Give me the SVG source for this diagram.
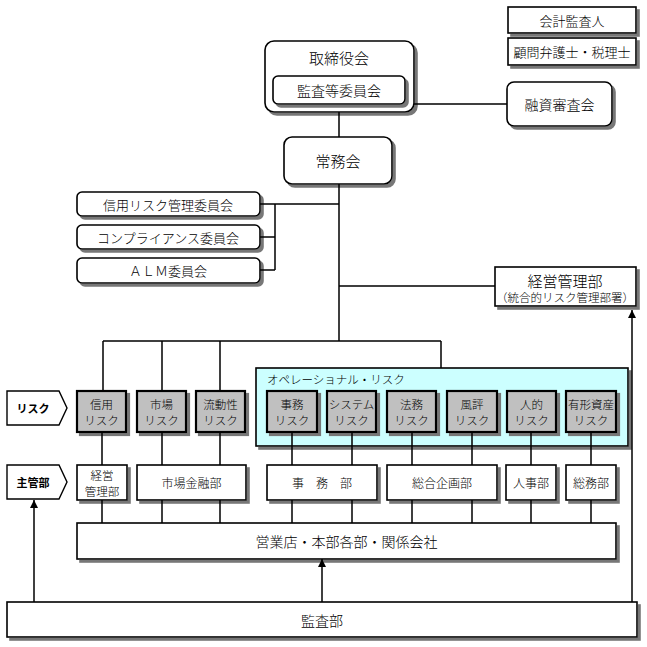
<svg xmlns="http://www.w3.org/2000/svg" width="647" height="647" viewBox="0 0 647 647">
<defs>
<filter id="sh" x="-10%" y="-10%" width="130%" height="140%"><feDropShadow dx="3" dy="3" stdDeviation="0" flood-color="#777" flood-opacity="1"/></filter>
<marker id="ah" viewBox="0 0 10 10" refX="10" refY="5" markerWidth="10" markerHeight="8" markerUnits="userSpaceOnUse" orient="auto"><path d="M0,0 L10,5 L0,10 z" fill="#000"/></marker>
<style>
.b{fill:#fff;stroke:#000;stroke-width:1.6;filter:url(#sh)}
.r{fill:#c0c0c0;stroke:#000;stroke-width:2.2;filter:url(#sh)}
.p{fill:#fff;stroke:#000;stroke-width:1.4}
.op{fill:#ccffff;stroke:#000;stroke-width:1.6;filter:url(#sh)}
.c{stroke:#000;stroke-width:1.5;fill:none}
.a{stroke:#000;stroke-width:1.5;fill:none;marker-end:url(#ah)}
text{font-family:"Noto Sans CJK JP",sans-serif;font-weight:300;fill:#000;text-anchor:middle;dominant-baseline:central}
.s11{font-size:11.5px}.s12{font-size:12px}.s13{font-size:13px}.s14{font-size:14px}.s15{font-size:15px}
.lb{font-weight:700;font-size:11px}
</style>
</defs>

<g id="auditor"><rect class="b" x="508" y="7" width="128" height="26"/><text class="s13" x="572" y="20">会計監査人</text></g>
<g id="advisor"><rect class="b" x="508" y="38" width="128" height="27"/><text class="s13" x="572" y="51.5">顧問弁護士・税理士</text></g>

<g id="board"><rect class="b" x="265" y="41" width="149" height="71" rx="9"/><text class="s15" x="339" y="57">取締役会</text>
<rect class="b" x="273" y="76" width="132" height="28" rx="5"/><text class="s14" x="339" y="90">監査等委員会</text></g>
<g id="loan"><rect class="b" x="507" y="82" width="105" height="44" rx="7"/><text class="s14" x="559.5" y="104">融資審査会</text></g>
<g id="executive"><rect class="b" x="284" y="137" width="108" height="47" rx="8"/><text class="s15" x="338" y="160.5">常務会</text></g>

<g id="cmt1"><rect class="b" x="77" y="192" width="183" height="24" rx="5"/><text class="s13" x="168" y="204">信用リスク管理委員会</text></g>
<g id="cmt2"><rect class="b" x="77" y="225" width="183" height="24" rx="5"/><text class="s13" x="168" y="237">コンプライアンス委員会</text></g>
<g id="cmt3"><rect class="b" x="77" y="258" width="183" height="25" rx="5"/><text class="s13" x="168" y="270.5">ＡＬＭ委員会</text></g>

<g id="mgmt"><rect class="b" x="495" y="267" width="141" height="39"/><text class="s15" x="565" y="280">経営管理部</text><text class="s11" x="565" y="297">（統合的リスク管理部署）</text></g>

<g id="lbl-risk"><polygon class="p" points="7,391 59,391 67,408 59,425 7,425"/><text class="lb" x="33" y="408">リスク</text></g>
<g id="lbl-dept"><polygon class="p" points="7,465 59,465 67,482 59,499 7,499"/><text class="lb" x="33" y="482">主管部</text></g>

<g id="r-credit"><rect class="r" x="77" y="391" width="49" height="41"/><text class="s11" x="101.5" y="404">信用</text><text class="s11" x="101.5" y="420">リスク</text></g>
<g id="r-market"><rect class="r" x="137" y="391" width="49" height="41"/><text class="s11" x="161.5" y="404">市場</text><text class="s11" x="161.5" y="420">リスク</text></g>
<g id="r-liquid"><rect class="r" x="196" y="391" width="49" height="41"/><text class="s11" x="220.5" y="404">流動性</text><text class="s11" x="220.5" y="420">リスク</text></g>

<g id="operational"><rect class="op" x="256" y="368" width="372" height="78"/><text class="s11" x="267" y="379" style="text-anchor:start">オペレーショナル・リスク</text>
<rect class="r" x="267" y="391" width="50" height="41"/><text class="s11" x="292" y="404">事務</text><text class="s11" x="292" y="420">リスク</text>
<rect class="r" x="327" y="391" width="49" height="41"/><text class="s11" x="351.5" y="404">システム</text><text class="s11" x="351.5" y="420">リスク</text>
<rect class="r" x="387" y="391" width="49" height="41"/><text class="s11" x="411.5" y="404">法務</text><text class="s11" x="411.5" y="420">リスク</text>
<rect class="r" x="447" y="391" width="50" height="41"/><text class="s11" x="472" y="404">風評</text><text class="s11" x="472" y="420">リスク</text>
<rect class="r" x="507" y="391" width="49" height="41"/><text class="s11" x="531.5" y="404">人的</text><text class="s11" x="531.5" y="420">リスク</text>
<rect class="r" x="566" y="391" width="50" height="41"/><text class="s11" x="591" y="404">有形資産</text><text class="s11" x="591" y="420">リスク</text></g>

<g id="d-mgmt"><rect class="b" x="77" y="465" width="50" height="35"/><text class="s11" x="102" y="475">経営</text><text class="s11" x="102" y="491">管理部</text></g>
<g id="d-market"><rect class="b" x="137" y="465" width="109" height="35"/><text class="s12" x="191.5" y="482.5">市場金融部</text></g>
<g id="d-ops"><rect class="b" x="267" y="465" width="110" height="35"/><text class="s12" x="322" y="482.5">事　務　部</text></g>
<g id="d-plan"><rect class="b" x="387" y="465" width="110" height="35"/><text class="s12" x="442" y="482.5">総合企画部</text></g>
<g id="d-hr"><rect class="b" x="506" y="465" width="50" height="35"/><text class="s12" x="531" y="482.5">人事部</text></g>
<g id="d-ga"><rect class="b" x="566" y="465" width="50" height="35"/><text class="s12" x="591" y="482.5">総務部</text></g>

<g id="branches"><rect class="b" x="77" y="523" width="539" height="36"/><text class="s14" x="346.5" y="541">営業店・本部各部・関係会社</text></g>
<g id="audit"><rect class="b" x="7" y="602" width="630" height="35"/><text class="s14" x="322" y="619.5">監査部</text></g>

<g id="connectors">
<path class="c" d="M339,112V137 M414,104H507 M339,184V341 M260,204H339 M275,204V270 M260,237H275 M260,270H275 M339,286H495 M103,341H441 M103,341V391 M162,341V391 M220,341V391 M441,341V368"/>
<path class="c" d="M102,432V465 M162,432V465 M220,432V465 M292,432V465 M352,432V465 M412,432V465 M472,432V465 M531,432V465 M591,432V465"/>
<path class="c" d="M102,500V523 M162,500V523 M220,500V523 M292,500V523 M352,500V523 M412,500V523 M472,500V523 M531,500V523 M591,500V523"/>
<path class="a" d="M34,602V500"/>
<path class="a" d="M322,602V559"/>
<path class="a" d="M632,602V310"/>
</g>
</svg>
